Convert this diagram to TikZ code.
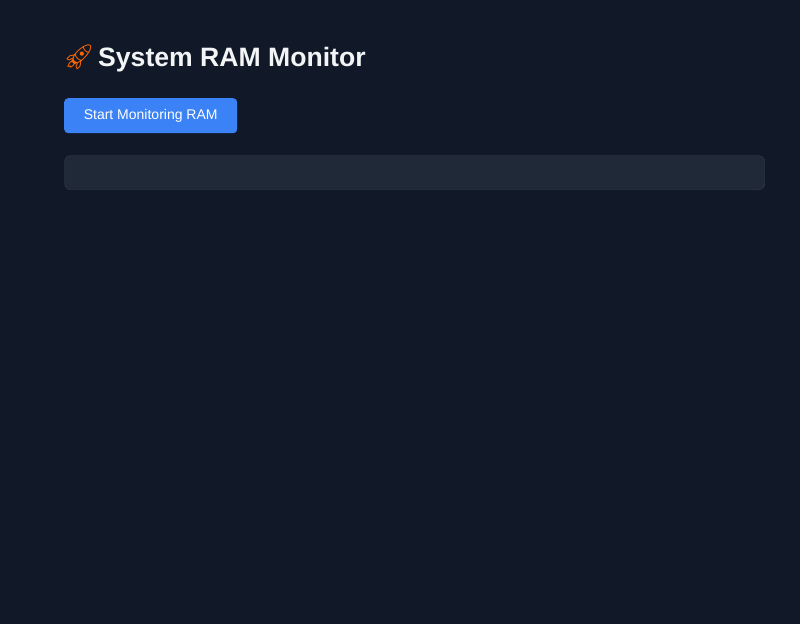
\documentclass[tikz,border=0pt]{standalone}
\usepackage{fontspec}
\setmainfont{Liberation Sans}
\newfontfamily\emojifont{Noto Emoji}
\usepackage{xcolor}
\definecolor{pagebg}{HTML}{111827}
\definecolor{panelbg}{HTML}{1F2937}
\definecolor{panelline}{HTML}{374151}
\definecolor{btnblue}{HTML}{3B82F6}
\definecolor{titlewhite}{HTML}{F3F4F6}

\begin{document}
\begin{tikzpicture}[x=1pt,y=-1pt]
    \fill[pagebg] (0,0) rectangle (800,624);
    \useasboundingbox (0,0) rectangle (800,624);

    \begin{scope}[every node/.style={anchor=base west,inner sep=0pt,text=titlewhite}]
      \node (rocket) at (63,65) {\emojifont\fontsize{25}{25}\selectfont\color{orange!80!red}🚀};
      \node (title) at (98,66) {\fontsize{26.6}{26.6}\selectfont\bfseries System RAM Monitor};
    \end{scope}

    \begin{scope}[every node/.style={rounded corners=4pt,inner sep=0pt}]
      \node (btn) [fill=btnblue,minimum width=173,minimum height=35,anchor=north west,
        text=white,font=\fontsize{14}{14}\selectfont] at (64,98) {\raisebox{-2pt}{Start Monitoring RAM}};
      \node (panel) [fill=panelbg,draw=panelline,rounded corners=6pt,minimum width=700,
        minimum height=34,anchor=north west] at (64.5,155.5) {};
    \end{scope}
  \end{tikzpicture}
\end{document}
